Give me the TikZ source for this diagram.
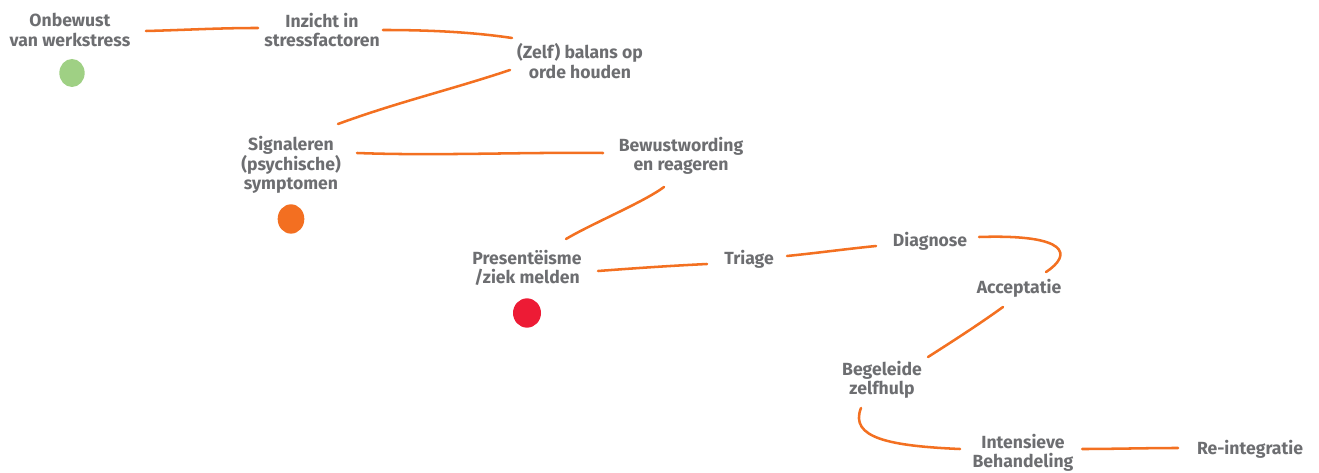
\documentclass[tikz,border=0pt]{standalone}
\usepackage{fontspec}
\setmainfont{Fira Sans}
\usetikzlibrary{shapes.geometric}
\definecolor{tekst}{HTML}{6D6E71}
\definecolor{lijn}{HTML}{F37021}
\definecolor{groen}{HTML}{9FD084}
\definecolor{oranje}{HTML}{F36F21}
\definecolor{rood}{HTML}{ED1B35}
\tikzset{
  stap/.style={text=tekst, font=\fontsize{13.2}{14.6}\selectfont\bfseries, align=center, inner sep=2pt},
  link/.style={draw=lijn, line width=1.9pt, line cap=round},
  dot/.style={ellipse, inner sep=0pt, minimum width=19pt, minimum height=21pt}
}
\begin{document}
\begin{tikzpicture}[x=0.75pt,y=-0.75pt]
\useasboundingbox (0,0) rectangle (1319,473);

\node[stap] (onbewust) at (70,30) {Onbewust\\van werkstress};
\node[stap] (inzicht) at (322,30) {Inzicht in\\stressfactoren};
\node[stap] (zelf) at (580,61) {(Zelf) balans op\\orde houden};
\node[stap] (signaleren) at (291,165) {Signaleren\\(psychische)\\symptomen};
\node[stap] (bewust) at (681,156) {Bewustwording\\en reageren};
\node[stap] (presentei) at (527,268) {Presentëisme\\/ziek melden};
\node[stap] (triage) at (749,259) {Triage};
\node[stap] (diagnose) at (930,241) {Diagnose};
\node[stap] (acceptatie) at (1019,288) {Acceptatie};
\node[stap] (begeleide) at (882,380) {Begeleide\\zelfhulp};
\node[stap] (intensieve) at (1023,453) {Intensieve\\Behandeling};
\node[stap] (reint) at (1250,449) {Re-integratie};

\node[dot, fill=groen] (groenedot) at (72,73) {};
\node[dot, fill=oranje, minimum width=20pt, minimum height=22pt] (oranjedot) at (291,219) {};
\node[dot, fill=rood, minimum width=21pt, minimum height=22pt] (rodedot) at (527,313) {};

\draw[link] ([shift={(76,1)}]onbewust.center) .. controls +(40,-1) and +(-40,0) .. ([shift={(-64,-2)}]inzicht.center);
\draw[link] ([shift={(61,0)}]inzicht.center) .. controls +(45,0) and +(-40,-6) .. ([shift={(-68,-23)}]zelf.center);
\draw[link] ([shift={(-70,9)}]zelf.center) .. controls +(-60,20) and +(60,-22) .. ([shift={(47,-41)}]signaleren.center);
\draw[link] ([shift={(66,-12)}]signaleren.center) .. controls +(80,3) and +(-80,-1) .. ([shift={(-78,-3)}]bewust.center);
\draw[link] ([shift={(-17,31)}]bewust.center) .. controls +(-20,15) and +(25,-15) .. ([shift={(39,-29)}]presentei.center);
\draw[link] ([shift={(71,3)}]presentei.center) .. controls +(40,-3) and +(-40,2) .. ([shift={(-42,5)}]triage.center);
\draw[link] ([shift={(38,-3)}]triage.center) .. controls +(30,-3) and +(-30,3) .. ([shift={(-54,5)}]diagnose.center);
\draw[link] ([shift={(49,-4)}]diagnose.center) .. controls +(91,-3) and +(26,-17) .. ([shift={(27,-16)}]acceptatie.center);
\draw[link] ([shift={(-16,19)}]acceptatie.center) .. controls +(-25,18) and +(25,-16) .. ([shift={(46,-23)}]begeleide.center);
\draw[link] ([shift={(-21,28)}]begeleide.center) .. controls +(-12,30) and +(-70,-3) .. ([shift={(-63,-4)}]intensieve.center);
\draw[link] ([shift={(59,-4)}]intensieve.center) .. controls +(30,0) and +(-30,0) .. ([shift={(-72,-1)}]reint.center);
\end{tikzpicture}
\end{document}
